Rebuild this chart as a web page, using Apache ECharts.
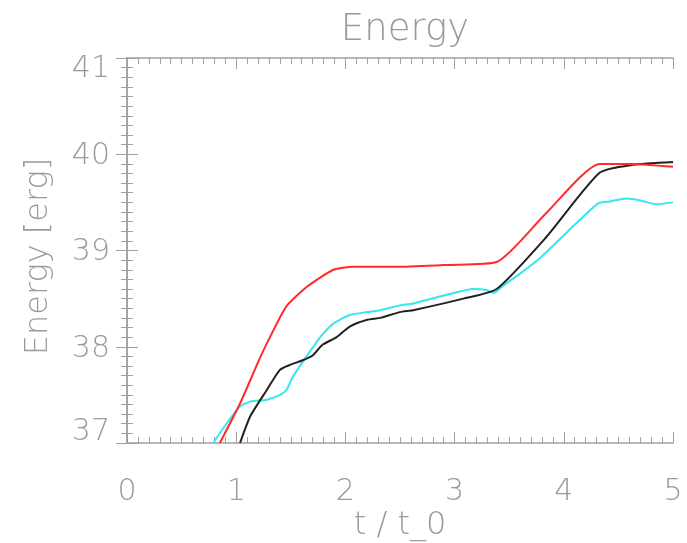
<!DOCTYPE html>
<html>
<head>
<meta charset="utf-8">
<script src="https://cdn.jsdelivr.net/npm/echarts@6/dist/echarts.min.js"></script>
<style>html,body{margin:0;padding:0;background:#fff;}#c{width:687px;height:543px;}</style>
</head>
<body>
<div id="c"></div>
<script>
const xTicks = [0, 1, 2, 3, 4, 5];
const yTicks = [37, 38, 39, 40, 41];
const redT = [0.85, 1.035, 1.22, 1.34, 1.46, 1.645, 1.89, 2.07, 2.32, 2.5, 2.93, 3.385, 3.84, 4.33, 4.63, 5.0];
const redE = [37.0, 37.41, 37.89, 38.17, 38.42, 38.62, 38.80, 38.83, 38.83, 38.83, 38.85, 38.88, 39.39, 39.90, 39.90, 39.87];
const blackT = [1.035, 1.13, 1.28, 1.40, 1.49, 1.61, 1.70, 1.79, 1.92, 2.04, 2.20, 2.32, 2.5, 2.62, 3.08, 3.385, 3.84, 4.33, 4.63, 5.0];
const blackE = [37.0, 37.28, 37.55, 37.76, 37.81, 37.86, 37.91, 38.02, 38.10, 38.21, 38.28, 38.30, 38.36, 38.38, 38.50, 38.60, 39.14, 39.81, 39.89, 39.92];
const cyanT = [0.79, 0.91, 1.035, 1.13, 1.28, 1.40, 1.46, 1.52, 1.645, 1.77, 1.89, 2.04, 2.20, 2.32, 2.5, 2.62, 2.93, 3.17, 3.29, 3.36, 3.45, 3.60, 3.78, 4.02, 4.315, 4.42, 4.57, 4.70, 4.85, 5.0];
const cyanE = [37.0, 37.20, 37.38, 37.43, 37.45, 37.50, 37.55, 37.69, 37.90, 38.10, 38.24, 38.33, 38.36, 38.38, 38.43, 38.45, 38.54, 38.60, 38.59, 38.56, 38.64, 38.76, 38.92, 39.18, 39.49, 39.51, 39.54, 39.52, 39.48, 39.50];

const pair = (a, b) => a.map((v, i) => [v, b[i]]);
const FONT = 'DejaVu Sans';
const GREY = '#9a9a9a';
const AX = '#a0a0a0';
const yMin = yTicks[0], yMax = yTicks[yTicks.length - 1];

const chart = echarts.init(document.getElementById('c'), null, {renderer: 'canvas'});
const axisCommon = {
  axisLine: {show: true, lineStyle: {color: AX, width: 1.5}},
  axisTick: {show: true, inside: true, length: 11, lineStyle: {color: AX, width: 1}},
  minorTick: {show: true, splitNumber: 10, length: 6, lineStyle: {color: AX, width: 1}},
  splitLine: {show: false}
};
const lblStyle = {fontFamily: FONT, fontWeight: 200, fontSize: 30, color: GREY};
chart.setOption({
  animation: false,
  backgroundColor: '#fff',
  title: {
    text: 'Energy', left: 400, top: 7, textAlign: 'center',
    textStyle: {fontFamily: FONT, fontWeight: 200, fontSize: 37, color: GREY}
  },
  grid: {left: 127, top: 58, right: 14, bottom: 100, containLabel: false, outerBoundsMode: 'none'},
  xAxis: [
    Object.assign({
      type: 'value', min: xTicks[0], max: xTicks[xTicks.length - 1], interval: 1, position: 'bottom',
      name: 't / t_0', nameLocation: 'middle', nameGap: 67, nameMoveOverlap: false,
      nameTextStyle: {fontFamily: FONT, fontWeight: 200, fontSize: 32, color: GREY},
      axisLabel: Object.assign({margin: 34}, lblStyle)
    }, axisCommon),
    Object.assign({
      type: 'value', min: xTicks[0], max: xTicks[xTicks.length - 1], interval: 1, position: 'top',
      axisLabel: {show: false}
    }, axisCommon)
  ],
  yAxis: [
    Object.assign({
      type: 'value', min: yMin, max: yMax, interval: 1, position: 'left',
      name: 'Energy [erg]', nameLocation: 'middle', nameGap: 72, nameMoveOverlap: false,
      nameTextStyle: {fontFamily: FONT, fontWeight: 200, fontSize: 32, color: GREY, padding: [0, 12, 0, 0]},
      axisLabel: Object.assign({
        margin: 17,
        formatter: v => v === yMax ? '{t|' + v + '}' : (v === yMin ? '{b|' + v + '}' : '{m|' + v + '}'),
        rich: {
          t: Object.assign({padding: [22, 0, 0, 0]}, lblStyle),
          b: Object.assign({padding: [0, 0, 22, 0]}, lblStyle),
          m: Object.assign({padding: [4, 0, 0, 0]}, lblStyle)
        }
      }, lblStyle)
    }, axisCommon),
    Object.assign({
      type: 'value', min: yMin, max: yMax, interval: 1, position: 'right',
      axisLabel: {show: false}
    }, axisCommon)
  ],
  series: [
    {type: 'line', data: pair(cyanT, cyanE), showSymbol: false, smooth: 0.2, clip: true,
      lineStyle: {color: '#36e6f0', width: 2}},
    {type: 'line', data: pair(blackT, blackE), showSymbol: false, smooth: 0.2, clip: true,
      lineStyle: {color: '#222222', width: 2}},
    {type: 'line', data: pair(redT, redE), showSymbol: false, smooth: 0.2, clip: true,
      lineStyle: {color: '#ff2a2a', width: 2}}
  ]
});
</script>
</body>
</html>
